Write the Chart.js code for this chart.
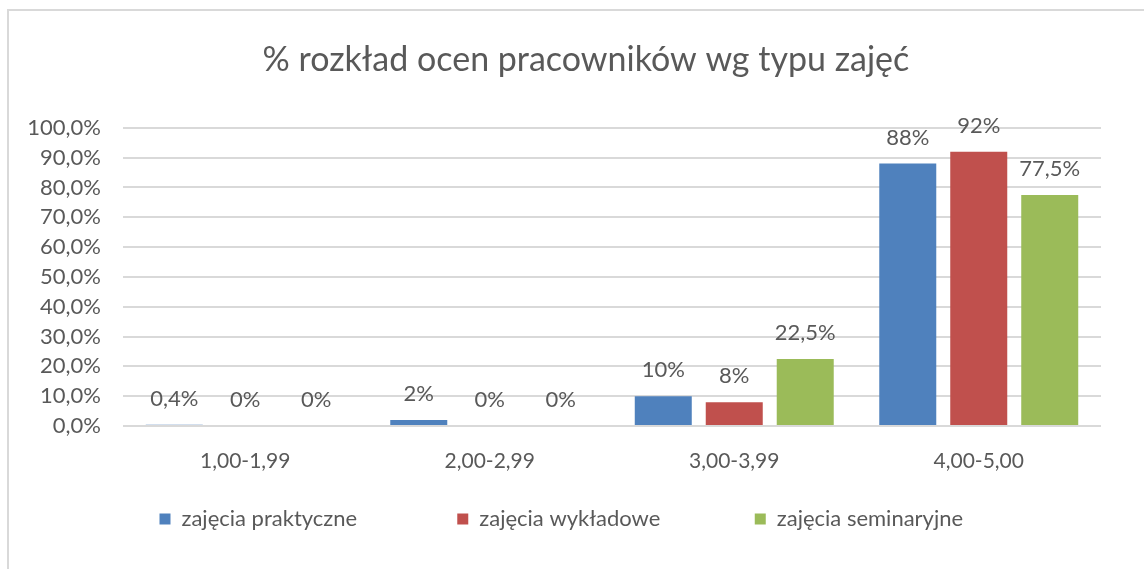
<!DOCTYPE html>
<html>
<head>
<meta charset="utf-8">
<script src="https://cdn.jsdelivr.net/npm/chart.js@4/dist/chart.umd.min.js"></script>
<style>
  html, body { margin: 0; padding: 0; background: #fff; }
  #frame { position: absolute; left: 7px; top: 9px; width: 1200px; height: 600px;
           border-left: 2px solid #D9D9D9; border-top: 2px solid #D9D9D9; }
  #wrap { position: absolute; left: 0; top: 0; width: 1144px; height: 569px; }
</style>
</head>
<body>
<div id="frame"></div>
<div id="wrap"><canvas id="c" width="1144" height="569"></canvas></div>
<script>
const categories = ["1,00-1,99", "2,00-2,99", "3,00-3,99", "4,00-5,00"];
const seriesNames = ["zajęcia praktyczne", "zajęcia wykładowe", "zajęcia seminaryjne"];
const praktyczne = [0.4, 2, 10, 88];
const wykladowe = [0, 0, 8, 92];
const seminaryjne = [0, 0, 22.5, 77.5];
const titleText = "% rozkład ocen pracowników wg typu zajęć";

const FONT = "Lato, 'Open Sans', sans-serif";
const TEXT = "#595959";
const legendGap = [16, 15, 18];
const titleIndent = 7;

const fmtPct = v => String(v).replace('.', ',') + '%';

const labelPlugin = {
  id: 'barLabels',
  afterDatasetsDraw(chart) {
    const ctx = chart.ctx;
    ctx.save();
    ctx.font = "22px " + FONT;
    ctx.fillStyle = TEXT;
    ctx.textAlign = 'center';
    ctx.textBaseline = 'middle';
    chart.data.datasets.forEach((ds, i) => {
      const meta = chart.getDatasetMeta(i);
      meta.data.forEach((bar, j) => {
        ctx.fillText(fmtPct(ds.data[j]), bar.x, bar.y - 26);
      });
    });
    ctx.restore();
  }
};

new Chart(document.getElementById('c'), {
  type: 'bar',
  data: {
    labels: categories,
    datasets: [
      { label: seriesNames[0], data: praktyczne, backgroundColor: '#4F81BD' },
      { label: seriesNames[1], data: wykladowe, backgroundColor: '#C0504D' },
      { label: seriesNames[2], data: seminaryjne, backgroundColor: '#9BBB59' }
    ]
  },
  options: {
    responsive: false,
    animation: false,
    devicePixelRatio: 1,
    layout: { padding: { left: 10, right: 43, top: 40, bottom: 29 } },
    datasets: { bar: { categoryPercentage: 0.871, barPercentage: 0.803 } },
    plugins: {
      title: {
        display: true, text: ' '.repeat(titleIndent) + titleText, color: TEXT,
        font: { family: FONT, size: 34, weight: 'normal' },
        padding: { top: 0, bottom: 47 }
      },
      legend: {
        position: 'bottom',
        fullSize: false,
        labels: {
          color: TEXT, boxWidth: 11, boxHeight: 11, padding: 10,
          font: { family: FONT, size: 22 },
          generateLabels(chart) {
            const items = Chart.defaults.plugins.legend.labels.generateLabels(chart);
            items.forEach((it, i) => { it.text += ' '.repeat(legendGap[i]); });
            return items;
          }
        }
      },
      tooltip: { enabled: false }
    },
    scales: {
      x: {
        afterFit(axis) { axis.height = 72; },
        grid: { display: false, drawTicks: false },
        border: { display: false },
        ticks: { color: TEXT, font: { family: FONT, size: 21 }, padding: 23 }
      },
      y: {
        min: 0, max: 100,
        afterFit(axis) { axis.width = 113; },
        grid: { color: '#D9D9D9', lineWidth: 2, drawTicks: false },
        border: { display: false },
        ticks: {
          stepSize: 10, autoSkip: false, color: TEXT, padding: 22,
          font: { family: FONT, size: 22 },
          callback: v => v.toFixed(1).replace('.', ',') + '%'
        }
      }
    }
  },
  plugins: [labelPlugin]
});
</script>
</body>
</html>
